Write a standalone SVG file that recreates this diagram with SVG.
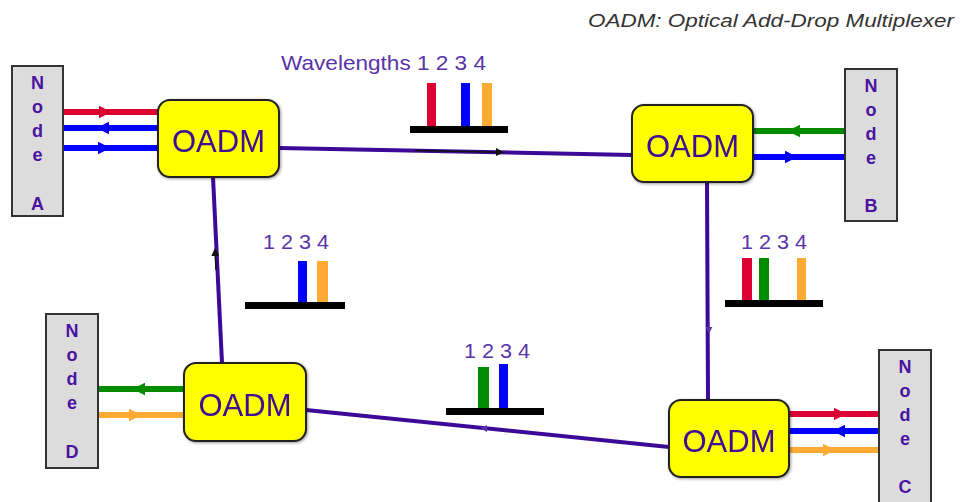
<svg xmlns="http://www.w3.org/2000/svg" width="961" height="502" viewBox="0 0 961 502">
<style>
.node{fill:#dcdcdc;stroke:#333;stroke-width:2}
.nl{font-family:"Liberation Sans",Arial,sans-serif;font-weight:bold;font-size:18px;fill:#4a14a0;text-anchor:middle}
.oadm{fill:#ffff00;stroke:#222;stroke-width:2}
.ot{font-family:"Liberation Sans",Arial,sans-serif;font-size:31px;fill:#3c0a96;text-anchor:middle}
.ring{stroke:#3c0a96;stroke-width:4;fill:none;stroke-linecap:round}
.fib{stroke-width:6;fill:none}
.num{font-family:"Liberation Sans",Arial,sans-serif;font-size:21px;fill:#5a32aa}
.base{fill:#000}
</style>
<defs>
<marker id="mr" markerUnits="userSpaceOnUse" markerWidth="13" markerHeight="13" refX="5" refY="6" orient="auto" viewBox="0 0 12 12"><path d="M0,0 L12,6 L0,12 z" fill="#dd0033"/></marker>
<marker id="mb" markerUnits="userSpaceOnUse" markerWidth="13" markerHeight="13" refX="5" refY="6" orient="auto" viewBox="0 0 12 12"><path d="M0,0 L12,6 L0,12 z" fill="#0000ff"/></marker>
<marker id="mg" markerUnits="userSpaceOnUse" markerWidth="13" markerHeight="13" refX="5" refY="6" orient="auto" viewBox="0 0 12 12"><path d="M0,0 L12,6 L0,12 z" fill="#008c00"/></marker>
<marker id="mo" markerUnits="userSpaceOnUse" markerWidth="13" markerHeight="13" refX="5" refY="6" orient="auto" viewBox="0 0 12 12"><path d="M0,0 L12,6 L0,12 z" fill="#ffaa33"/></marker>
<marker id="mk" markerUnits="userSpaceOnUse" markerWidth="8" markerHeight="8" refX="6" refY="4" orient="auto" viewBox="0 0 8 8"><path d="M0,0 L8,4 L0,8 z" fill="#111"/></marker>
<marker id="mp" markerUnits="userSpaceOnUse" markerWidth="7" markerHeight="7" refX="6" refY="4" orient="auto" viewBox="0 0 8 8"><path d="M0,0 L8,4 L0,8 z" fill="#5a32aa"/></marker>
<filter id="sh" x="-10%" y="-10%" width="130%" height="130%"><feGaussianBlur in="SourceAlpha" stdDeviation="1.5"/><feOffset dx="1" dy="1"/><feComponentTransfer><feFuncA type="linear" slope="0.4"/></feComponentTransfer><feMerge><feMergeNode/><feMergeNode in="SourceGraphic"/></feMerge></filter>
</defs>
<rect width="961" height="502" fill="#fff"/>
<text x="588" y="27" font-family="Liberation Sans,Arial,sans-serif" font-style="italic" font-size="18" fill="#333" textLength="366" lengthAdjust="spacingAndGlyphs">OADM: Optical Add-Drop Multiplexer</text>

<g id="connectors">
<line class="ring" x1="279" y1="148" x2="632" y2="155"/>
<line class="ring" x1="213" y1="177" x2="222" y2="363"/>
<line class="ring" x1="707" y1="182" x2="708" y2="400"/>
<line class="ring" x1="306" y1="410" x2="669" y2="447"/>
<line x1="415" y1="150.5" x2="502" y2="152.2" stroke="#111" stroke-width="1.5" marker-end="url(#mk)"/>
<line x1="216" y1="270" x2="215" y2="250" stroke="#111" stroke-width="1.5" marker-end="url(#mk)"/>
<line x1="709" y1="322" x2="709" y2="332" stroke="#5a32aa" stroke-width="1" marker-end="url(#mp)"/>
<line x1="498" y1="429.5" x2="482" y2="428" stroke="#3c0a96" stroke-width="1" marker-end="url(#mp)"/>
<path class="fib" stroke="#dd0033" d="M63,112 L104,112 L158,112" marker-mid="url(#mr)"/>
<path class="fib" stroke="#0000ff" d="M158,128 L104,128 L63,128" marker-mid="url(#mb)"/>
<path class="fib" stroke="#0000ff" d="M63,148 L103,148 L158,148" marker-mid="url(#mb)"/>
<path class="fib" stroke="#008c00" d="M845,131 L795,131 L753,131" marker-mid="url(#mg)"/>
<path class="fib" stroke="#0000ff" d="M753,157 L790,157 L845,157" marker-mid="url(#mb)"/>
<path class="fib" stroke="#008c00" d="M184,389 L140,389 L98,389" marker-mid="url(#mg)"/>
<path class="fib" stroke="#ffaa33" d="M98,415 L134,415 L184,415" marker-mid="url(#mo)"/>
<path class="fib" stroke="#dd0033" d="M789,414 L839,414 L879,414" marker-mid="url(#mr)"/>
<path class="fib" stroke="#0000ff" d="M879,431 L840,431 L789,431" marker-mid="url(#mb)"/>
<path class="fib" stroke="#ffaa33" d="M789,450 L828,450 L879,450" marker-mid="url(#mo)"/>
</g>

<g id="nodeA"><rect class="node" x="12" y="66" width="51" height="150"/>
<text class="nl" x="37.5" y="89">N</text><text class="nl" x="37.5" y="113">o</text><text class="nl" x="37.5" y="137">d</text><text class="nl" x="37.5" y="161">e</text><text class="nl" x="37.5" y="210">A</text></g>
<g id="nodeB"><rect class="node" x="845" y="69" width="52" height="152"/>
<text class="nl" x="871" y="92">N</text><text class="nl" x="871" y="116">o</text><text class="nl" x="871" y="140">d</text><text class="nl" x="871" y="164">e</text><text class="nl" x="871" y="212">B</text></g>
<g id="nodeD"><rect class="node" x="46" y="314" width="52" height="154"/>
<text class="nl" x="72" y="337">N</text><text class="nl" x="72" y="361">o</text><text class="nl" x="72" y="385">d</text><text class="nl" x="72" y="409">e</text><text class="nl" x="72" y="458">D</text></g>
<g id="nodeC"><rect class="node" x="879" y="350" width="52" height="160"/>
<text class="nl" x="905" y="373">N</text><text class="nl" x="905" y="397">o</text><text class="nl" x="905" y="421">d</text><text class="nl" x="905" y="445">e</text><text class="nl" x="905" y="493">C</text></g>

<g id="oadmA" filter="url(#sh)"><rect class="oadm" x="158" y="100" width="121" height="77" rx="12"/><text class="ot" x="218.5" y="152">OADM</text></g>
<g id="oadmB" filter="url(#sh)"><rect class="oadm" x="632" y="105" width="121" height="77" rx="12"/><text class="ot" x="692.5" y="157">OADM</text></g>
<g id="oadmD" filter="url(#sh)"><rect class="oadm" x="184" y="363" width="122" height="78" rx="12"/><text class="ot" x="245" y="416">OADM</text></g>
<g id="oadmC" filter="url(#sh)"><rect class="oadm" x="669" y="400" width="120" height="77" rx="12"/><text class="ot" x="729" y="452">OADM</text></g>

<g id="spectrumTop">
<text class="num" x="281" y="70" font-size="20" textLength="205" lengthAdjust="spacingAndGlyphs">Wavelengths 1 2 3 4</text>
<rect x="427" y="83" width="9" height="44" fill="#dd0033"/>
<rect x="461" y="83" width="9" height="44" fill="#0000ff"/>
<rect x="482" y="83" width="10" height="44" fill="#ffaa33"/>
<rect class="base" x="410" y="126" width="98" height="7"/>
</g>
<g id="spectrumLeft">
<text class="num" x="263" y="249" textLength="66" lengthAdjust="spacingAndGlyphs">1 2 3 4</text>
<rect x="298" y="261" width="9" height="42" fill="#0000ff"/>
<rect x="317" y="261" width="11" height="42" fill="#ffaa33"/>
<rect class="base" x="245" y="302" width="100" height="7"/>
</g>
<g id="spectrumRight">
<text class="num" x="741" y="249" textLength="66" lengthAdjust="spacingAndGlyphs">1 2 3 4</text>
<rect x="742" y="258" width="10" height="43" fill="#dd0033"/>
<rect x="759" y="258" width="10" height="43" fill="#008c00"/>
<rect x="797" y="258" width="9" height="43" fill="#ffaa33"/>
<rect class="base" x="725" y="300" width="98" height="7"/>
</g>
<g id="spectrumBottom">
<text class="num" x="464" y="358" textLength="66" lengthAdjust="spacingAndGlyphs">1 2 3 4</text>
<rect x="478" y="367" width="11" height="42" fill="#008c00"/>
<rect x="499" y="364" width="9" height="45" fill="#0000ff"/>
<rect class="base" x="446" y="408" width="98" height="7"/>
</g>
</svg>
